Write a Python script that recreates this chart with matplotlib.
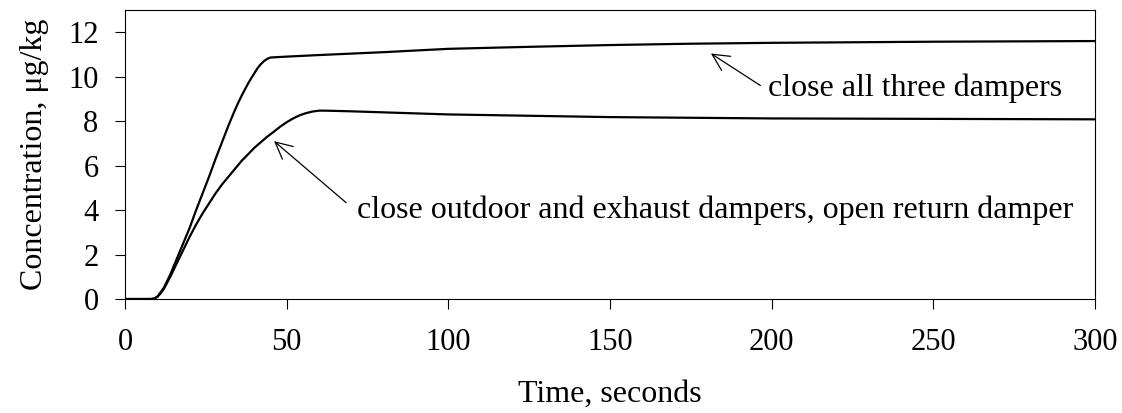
import matplotlib
matplotlib.use("Agg")
import matplotlib.pyplot as plt

# data
t_all = [0, 8, 9, 10, 11, 12, 14, 16, 18, 20, 22, 24, 26, 28, 30, 32, 34, 35, 36, 37,
         38, 39, 40, 41, 42, 43, 44, 45, 50, 60, 80, 100, 125, 150, 175, 200, 250, 300]
c_all = [0, 0, 0.02, 0.1, 0.3, 0.5, 1.1, 1.8, 2.5, 3.2, 4.0, 4.75, 5.5, 6.3, 7.05, 7.8,
         8.5, 8.82, 9.12, 9.4, 9.67, 9.92, 10.15, 10.38, 10.56, 10.7, 10.8, 10.86, 10.9,
         10.97, 11.1, 11.25, 11.34, 11.42, 11.48, 11.52, 11.57, 11.6]

t_ret = [0, 8, 9, 10, 11, 12, 14, 16, 18, 20, 22, 24, 26, 28, 30, 32, 34, 36, 38, 40,
         42, 44, 46, 48, 50, 52, 54, 56, 58, 60, 62, 70, 100, 150, 200, 250, 300]
c_ret = [0, 0, 0.02, 0.1, 0.25, 0.45, 1.0, 1.6, 2.2, 2.8, 3.35, 3.85, 4.3, 4.75, 5.15,
         5.5, 5.85, 6.2, 6.5, 6.8, 7.05, 7.3, 7.52, 7.75, 7.95, 8.12, 8.26, 8.36, 8.43,
         8.47, 8.47, 8.44, 8.3, 8.18, 8.12, 8.1, 8.08]

plt.rcParams['font.family'] = ['Liberation Serif', 'DejaVu Serif']

fig = plt.figure(figsize=(11.22, 4.13), dpi=100)
ax = fig.add_axes([0.1114, 0.276, 0.8646, 0.7])

ax.plot(t_all, c_all, color='black', lw=1.6)
ax.plot(t_ret, c_ret, color='black', lw=1.6)

ax.set_xlim(0, 300)
ax.set_ylim(0, 13)
ax.set_xticks([0, 50, 100, 150, 200, 250, 300])
ax.set_yticks([0, 2, 4, 6, 8, 10, 12])
ax.tick_params(direction='out', length=7, width=0.8, labelsize=22)
ax.tick_params(axis='x', pad=14)
ax.tick_params(axis='y', pad=12)
for s in ax.spines.values():
    s.set_linewidth(0.8)

ax.set_xlabel('Time, seconds', fontsize=23, labelpad=16)
ax.set_ylabel('Concentration, μg/kg', fontsize=23, labelpad=14)

arr = dict(arrowstyle='->,head_length=0.6,head_width=0.3', color='black', lw=0.9,
           shrinkA=0, shrinkB=0, mutation_scale=20)
ax.annotate('', xy=(181.2, 11.04), xytext=(196.5, 9.6), arrowprops=arr)
ax.text(198.9, 9.48, 'close all three dampers', fontsize=23, va='center', ha='left')
ax.annotate('', xy=(46.1, 7.1), xytext=(68.4, 4.33), arrowprops=arr)
ax.text(71.7, 4.0, 'close outdoor and exhaust dampers, open return damper',
        fontsize=23, va='center', ha='left')

fig.savefig('out.png', dpi=100)
